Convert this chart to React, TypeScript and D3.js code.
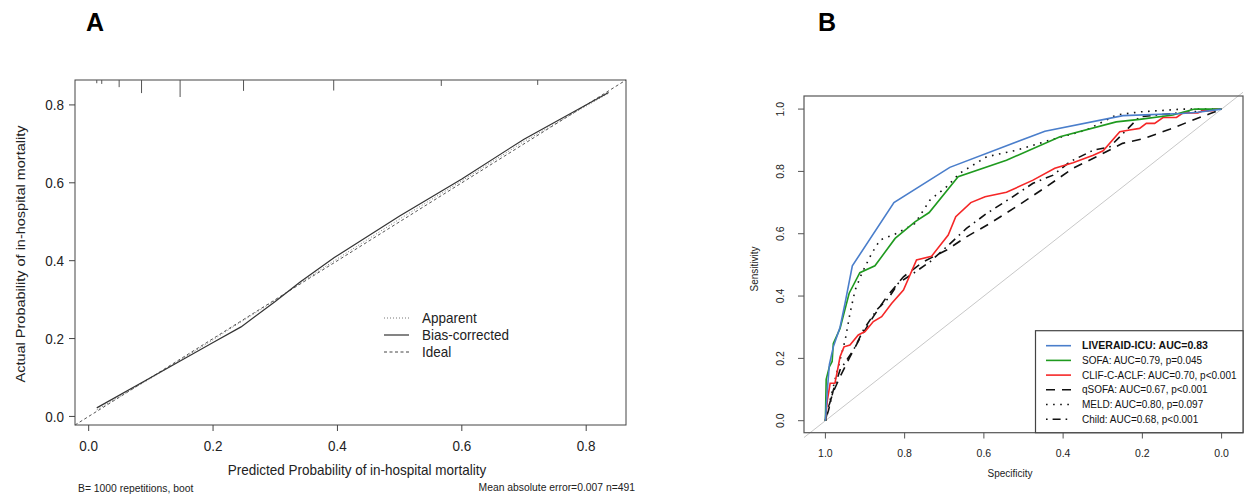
import React from "react";
import * as d3 from "d3";

// Panel A: calibration curve
const calX = [0.013, 0.1, 0.2, 0.245, 0.3, 0.34, 0.395, 0.5, 0.6, 0.7, 0.836];
const biasCorrected = [0.022, 0.1, 0.19, 0.23, 0.295, 0.345, 0.408, 0.515, 0.61, 0.712, 0.832];
const apparent = [0.017, 0.098, 0.197, 0.243, 0.298, 0.342, 0.4, 0.507, 0.605, 0.706, 0.83];
const rugX = [0.013, 0.021, 0.049, 0.085, 0.147, 0.249, 0.394, 0.567, 0.722];
const rugFreq = [19, 23, 42, 77, 100, 64, 62, 35, 29];
const calTicks = [0, 0.2, 0.4, 0.6, 0.8];
const calLegend = ["Apparent", "Bias-corrected", "Ideal"];

// Panel B: ROC curves
const liveraidSpec = [1, 0.995, 0.99, 0.98, 0.963, 0.95, 0.932, 0.827, 0.686, 0.446, 0.249, 0.1, 0.06, 0];
const liveraidSens = [0, 0.1, 0.18, 0.237, 0.3, 0.38, 0.497, 0.7, 0.813, 0.929, 0.979, 0.986, 0.99, 1];
const sofaSpec = [1, 0.998, 0.99, 0.983, 0.98, 0.963, 0.94, 0.913, 0.875, 0.824, 0.774, 0.738, 0.665, 0.543, 0.408, 0.266, 0.207, 0.123, 0.068, 0];
const sofaSens = [0, 0.133, 0.173, 0.19, 0.248, 0.296, 0.409, 0.475, 0.497, 0.585, 0.638, 0.668, 0.783, 0.836, 0.911, 0.959, 0.967, 0.981, 1, 1];
const clifSpec = [1, 0.995, 0.988, 0.976, 0.971, 0.963, 0.953, 0.938, 0.917, 0.9, 0.879, 0.858, 0.833, 0.803, 0.77, 0.732, 0.69, 0.671, 0.633, 0.597, 0.543, 0.476, 0.421, 0.375, 0.324, 0.299, 0.257, 0.232, 0.207, 0.19, 0.169, 0.148, 0.114, 0.097, 0.06, 0.047, 0.022, 0.018, 0];
const clifSens = [0, 0.066, 0.12, 0.12, 0.152, 0.205, 0.237, 0.243, 0.275, 0.286, 0.318, 0.334, 0.376, 0.419, 0.516, 0.528, 0.596, 0.655, 0.7, 0.719, 0.733, 0.772, 0.81, 0.828, 0.852, 0.866, 0.927, 0.933, 0.938, 0.954, 0.954, 0.973, 0.973, 0.988, 0.988, 0.995, 0.995, 1, 1];
const qsofaSpec = [1, 0.992, 0.98, 0.963, 0.938, 0.913, 0.879, 0.845, 0.803, 0.753, 0.694, 0.644, 0.585, 0.518, 0.442, 0.375, 0.316, 0.25, 0.198, 0.131, 0.072, 0.03, 0];
const qsofaSens = [0, 0.045, 0.093, 0.141, 0.205, 0.264, 0.334, 0.398, 0.462, 0.51, 0.548, 0.59, 0.633, 0.687, 0.751, 0.81, 0.847, 0.89, 0.905, 0.935, 0.965, 0.985, 1];
const meldSpec = [1, 0.99, 0.976, 0.963, 0.95, 0.938, 0.925, 0.908, 0.883, 0.862, 0.82, 0.774, 0.736, 0.694, 0.661, 0.593, 0.518, 0.434, 0.341, 0.266, 0.207, 0.097, 0];
const meldSens = [0, 0.056, 0.13, 0.195, 0.259, 0.344, 0.419, 0.473, 0.537, 0.58, 0.601, 0.633, 0.708, 0.751, 0.794, 0.847, 0.868, 0.9, 0.933, 0.981, 0.991, 1, 1];
const childSpec = [1, 0.992, 0.98, 0.963, 0.929, 0.904, 0.871, 0.841, 0.816, 0.778, 0.736, 0.694, 0.644, 0.593, 0.534, 0.476, 0.425, 0.383, 0.324, 0.282, 0.24, 0.207, 0.123, 0.039, 0];
const childSens = [0, 0.034, 0.098, 0.163, 0.227, 0.291, 0.355, 0.393, 0.441, 0.473, 0.51, 0.558, 0.617, 0.665, 0.713, 0.762, 0.788, 0.831, 0.868, 0.879, 0.933, 0.975, 0.986, 0.995, 1];
const rocTicks = [1, 0.8, 0.6, 0.4, 0.2, 0];

const rocSeries = [
  { label: "LIVERAID-ICU: AUC=0.83", spec: liveraidSpec, sens: liveraidSens, color: "#4a7ecb", dash: "", bold: true },
  { label: "SOFA: AUC=0.79, p=0.045", spec: sofaSpec, sens: sofaSens, color: "#1f9a1f", dash: "", bold: false },
  { label: "CLIF-C-ACLF: AUC=0.70, p<0.001", spec: clifSpec, sens: clifSens, color: "#f52727", dash: "", bold: false },
  { label: "qSOFA: AUC=0.67, p<0.001", spec: qsofaSpec, sens: qsofaSens, color: "#111", dash: "9,7", bold: false },
  { label: "MELD: AUC=0.80, p=0.097", spec: meldSpec, sens: meldSens, color: "#111", dash: "1.6,5.5", bold: false },
  { label: "Child: AUC=0.68, p<0.001", spec: childSpec, sens: childSens, color: "#111", dash: "1.6,5,8,5", bold: false },
];

const FONT = "'Liberation Sans', Arial, Helvetica, sans-serif";

// panel A text looks slightly squeezed horizontally
const sq = (x: number, y: number, rot = 0) =>
  `translate(${x},${y}) scale(0.9,1)${rot ? ` rotate(${rot})` : ""}`;

export default function App() {
  const xA = d3.scaleLinear().domain([-0.022, 0.864]).range([75, 626]);
  const yA = d3.scaleLinear().domain([-0.022, 0.864]).range([425, 80]);
  const rugLen = d3.scaleLinear().domain([0, 100]).range([0, 17]);
  const lineA = d3
    .line<[number, number]>()
    .x((d) => xA(d[0]))
    .y((d) => yA(d[1]));
  const biasPts = calX.map((x, i) => [x, biasCorrected[i]] as [number, number]);
  const appPts = calX.map((x, i) => [x, apparent[i]] as [number, number]);

  const xB = d3.scaleLinear().domain([1.054, -0.054]).range([804, 1243]);
  const yB = d3.scaleLinear().domain([-0.0385, 1.042]).range([432.7, 96]);
  const lineB = d3
    .line<[number, number]>()
    .x((d) => xB(d[0]))
    .y((d) => yB(d[1]));

  const legA = [
    { dash: "1,2", color: "#777", w: 1 },
    { dash: "", color: "#333", w: 1.2 },
    { dash: "3,2.5", color: "#444", w: 1 },
  ];

  return (
    <svg
      width={1244}
      height={494}
      style={{ position: "absolute", left: 0, top: 0, background: "#fff" }}
      fontFamily={FONT}
    >
      {/* ---------- Panel A ---------- */}
      <text x={86} y={31} fontSize={25} fontWeight="bold" fill="#000">A</text>
      <rect x={75} y={80} width={551} height={345} fill="none" stroke="#444" strokeWidth={1} />
      {rugX.map((v, i) => (
        <line key={i} x1={xA(v)} x2={xA(v)} y1={80} y2={80 + rugLen(rugFreq[i])} stroke="#555" strokeWidth={1} />
      ))}
      {calTicks.map((t) => (
        <g key={"xa" + t}>
          <line x1={xA(t)} x2={xA(t)} y1={425} y2={431} stroke="#444" />
          <text transform={sq(xA(t), 451)} textAnchor="middle" fontSize={15} fill="#222">
            {t.toFixed(1)}
          </text>
          <line x1={69} x2={75} y1={yA(t)} y2={yA(t)} stroke="#444" />
          <text transform={sq(64, yA(t))} textAnchor="end" dy="0.35em" fontSize={15} fill="#222">
            {t.toFixed(1)}
          </text>
        </g>
      ))}
      <line x1={xA(-0.022)} y1={yA(-0.022)} x2={xA(0.864)} y2={yA(0.864)} stroke="#555" strokeWidth={1} strokeDasharray="3,2.5" />
      <path d={lineA(appPts) || ""} fill="none" stroke="#777" strokeWidth={1} strokeDasharray="1,2" />
      <path d={lineA(biasPts) || ""} fill="none" stroke="#333" strokeWidth={1.2} />
      {calLegend.map((lab, i) => (
        <g key={lab}>
          <line x1={384} x2={409} y1={318 + i * 17} y2={318 + i * 17} stroke={legA[i].color} strokeWidth={legA[i].w} strokeDasharray={legA[i].dash} />
          <text transform={sq(422, 318 + i * 17)} dy="0.35em" fontSize={15} fill="#222">{lab}</text>
        </g>
      ))}
      <text transform={sq(357, 475)} textAnchor="middle" fontSize={15} fill="#222">
        Predicted Probability of in-hospital mortality
      </text>
      <text transform={sq(20, 254, -90)} textAnchor="middle" dy="0.35em" fontSize={14.5} fill="#222">
        Actual Probability of in-hospital mortality
      </text>
      <text transform={sq(78, 492)} fontSize={11.5} fill="#222">B= 1000 repetitions, boot</text>
      <text transform={sq(635, 491)} textAnchor="end" fontSize={11.5} fill="#222">Mean absolute error=0.007 n=491</text>

      {/* ---------- Panel B ---------- */}
      <text x={818} y={31} fontSize={25} fontWeight="bold" fill="#000">B</text>
      <line x1={xB(1.054)} y1={yB(-0.054)} x2={xB(-0.054)} y2={yB(1.054)} stroke="#c8c8c8" strokeWidth={1} />
      {rocSeries
        .slice()
        .reverse()
        .map((s) => (
          <path
            key={s.label}
            d={lineB(s.spec.map((v, i) => [v, s.sens[i]] as [number, number])) || ""}
            fill="none"
            stroke={s.color}
            strokeWidth={1.6}
            strokeDasharray={s.dash}
          />
        ))}
      <rect x={804} y={96} width={439} height={336.7} fill="none" stroke="#555" strokeWidth={1.2} />
      {rocTicks.map((t) => (
        <g key={"b" + t}>
          <line x1={xB(t)} x2={xB(t)} y1={432.7} y2={438.5} stroke="#555" />
          <text x={xB(t)} y={456.5} textAnchor="middle" fontSize={10.5} fill="#222">
            {t.toFixed(1)}
          </text>
          <line x1={798} x2={804} y1={yB(t)} y2={yB(t)} stroke="#555" />
          <text transform={`translate(780,${yB(t)}) rotate(-90)`} textAnchor="middle" dy="0.35em" fontSize={10.5} fill="#222">
            {t.toFixed(1)}
          </text>
        </g>
      ))}
      <text x={1010} y={476.5} textAnchor="middle" fontSize={10} fill="#222">Specificity</text>
      <text transform="translate(754,269) rotate(-90)" textAnchor="middle" dy="0.35em" fontSize={10} fill="#222">
        Sensitivity
      </text>
      <rect x={1035.5} y={330.7} width={207.5} height={102} fill="#fff" stroke="#444" strokeWidth={1.2} />
      {rocSeries.map((s, i) => {
        const y = 345.7 + i * 14.7;
        return (
          <g key={"leg" + s.label}>
            <line x1={1046} x2={1071} y1={y} y2={y} stroke={s.color} strokeWidth={1.6} strokeDasharray={s.dash} />
            <text x={1082} y={y} dy="0.35em" fontSize={s.bold ? 10.5 : 10} fontWeight={s.bold ? "bold" : "normal"} fill="#111">
              {s.label}
            </text>
          </g>
        );
      })}
    </svg>
  );
}
